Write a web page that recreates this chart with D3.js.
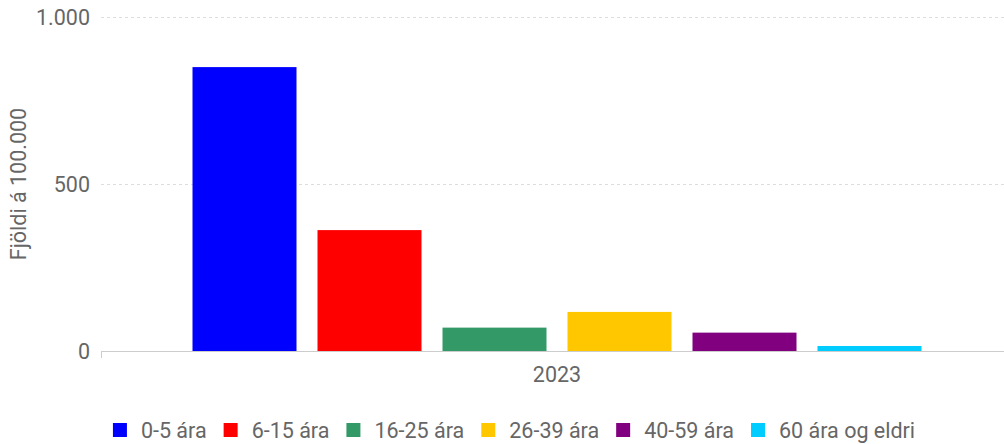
<!DOCTYPE html>
<meta charset="utf-8">
<head>
  <style>
  body { margin: 0; background: #fff; }
  text { font-family: Roboto, sans-serif; fill: #666; font-size: 21.5px; }
  </style>
</head>
<body>
<script src="https://d3js.org/d3.v7.min.js"></script>
<script>
// data
var years = ["2023"];
var groups = ["0-5 ára", "6-15 ára", "16-25 ára", "26-39 ára", "40-59 ára", "60 ára og eldri"];
var values = [850, 362, 70, 117, 55, 15];
var colors = ["#0000ff", "#ff0000", "#339966", "#ffc700", "#800080", "#00ccff"];
var yTicks = [0, 500, 1000];

var W = 1004, H = 444;
var plotLeft = 101, plotRight = 1013, plotTop = 17, plotBottom = 351;

var svg = d3.select("body").append("svg")
    .attr("width", W)
    .attr("height", H);

var y = d3.scaleLinear().domain([0, 1000]).range([plotBottom, plotTop]);
var x0 = d3.scaleBand().domain(years).range([plotLeft, plotRight]).paddingOuter(0.108);
var x1 = d3.scaleBand().domain(groups).range([0, x0.bandwidth()])
    .paddingInner(0.168).paddingOuter(0.084);

// grid
svg.selectAll("line.grid")
    .data(yTicks.filter(function(d) { return d > 0; }))
    .enter().append("line")
    .attr("class", "grid")
    .attr("x1", plotLeft).attr("x2", plotRight)
    .attr("y1", function(d) { return y(d) + 0.5; })
    .attr("y2", function(d) { return y(d) + 0.5; })
    .attr("stroke", "#ddd")
    .attr("stroke-dasharray", "3,3");

// y labels
var fmt = function(d) { return d3.format(",")(d).replace(/,/g, "."); };
svg.selectAll("text.ytick")
    .data(yTicks)
    .enter().append("text")
    .attr("class", "ytick")
    .attr("x", 90)
    .attr("y", function(d) { return y(d) + 8; })
    .attr("text-anchor", "end")
    .text(fmt);

// bars
svg.selectAll("rect.bar")
    .data(values)
    .enter().append("rect")
    .attr("class", "bar")
    .attr("x", function(d, i) { return x0("2023") + x1(groups[i]); })
    .attr("y", function(d) { return y(d); })
    .attr("width", x1.bandwidth())
    .attr("height", function(d) { return plotBottom - y(d); })
    .attr("fill", function(d, i) { return colors[i]; });

// x axis line
svg.append("line")
    .attr("x1", plotLeft).attr("x2", plotRight)
    .attr("y1", plotBottom + 0.5).attr("y2", plotBottom + 0.5)
    .attr("stroke", "#ccc");
svg.append("line")
    .attr("x1", plotLeft + 0.5).attr("x2", plotLeft + 0.5)
    .attr("y1", plotBottom).attr("y2", plotBottom + 7)
    .attr("stroke", "#ccc");

svg.append("text")
    .attr("x", x0("2023") + x0.bandwidth() / 2)
    .attr("y", 382)
    .attr("text-anchor", "middle")
    .text(years[0]);

// y title
svg.append("text")
    .attr("transform", "translate(26," + 184 + ") rotate(-90)")
    .attr("text-anchor", "middle")
    .text("Fjöldi á 100.000");

// legend
var legend = svg.append("g");
var lx = 0;
groups.forEach(function(g, i) {
    var item = legend.append("g").attr("transform", "translate(" + lx + ",0)");
    item.append("rect")
        .attr("x", 0).attr("y", 423)
        .attr("width", 14).attr("height", 14)
        .attr("fill", colors[i]);
    var t = item.append("text")
        .attr("x", 28).attr("y", 438)
        .text(g);
    lx += 28 + t.node().getComputedTextLength() + 17;
});
var lw = lx - 17;
legend.attr("transform", "translate(" + (514 - lw / 2) + ",0)");
</script>
</body>
